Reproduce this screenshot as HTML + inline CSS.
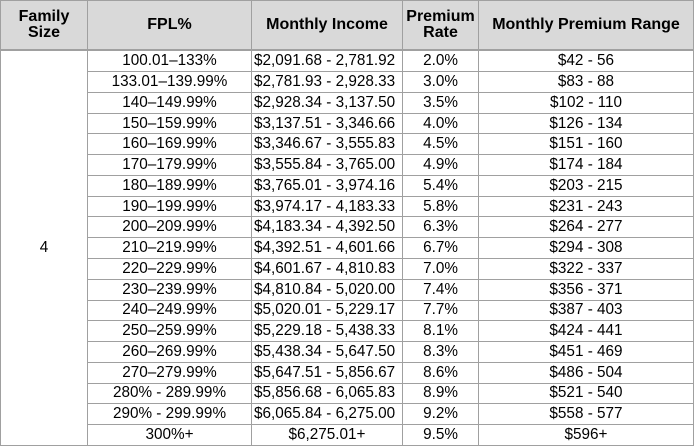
<!DOCTYPE html>
<html><head><style>
body{margin:0;background:#fff;}
table{position:absolute;left:0;top:0;width:693px;height:446px;border-collapse:collapse;font-family:"Liberation Sans",Arial,sans-serif;font-size:15.3px;color:#000;table-layout:fixed;}
td,th{border:1px solid #a0a0a0;padding:0 2px;text-align:center;line-height:16px;white-space:nowrap;overflow:hidden;}
th{background:#d9d9d9;font-weight:bold;font-size:16px;height:46px;border-bottom:2px solid #a0a0a0;}
td{height:18.8px;}
td.l{text-align:left;}
</style></head><body>
<table>
<colgroup><col style="width:87px"><col style="width:164px"><col style="width:151px"><col style="width:76px"><col style="width:215px"></colgroup>
<tr><th>Family<br>Size</th><th>FPL%</th><th>Monthly Income</th><th>Premium<br>Rate</th><th>Monthly Premium Range</th></tr>
<tr><td rowspan="20">4</td><td>100.01–133%</td><td class="l">$2,091.68 - 2,781.92</td><td>2.0%</td><td>$42 - 56</td></tr>
<tr><td>133.01–139.99%</td><td class="l">$2,781.93 - 2,928.33</td><td>3.0%</td><td>$83 - 88</td></tr>
<tr><td>140–149.99%</td><td class="l">$2,928.34 - 3,137.50</td><td>3.5%</td><td>$102 - 110</td></tr>
<tr><td>150–159.99%</td><td class="l">$3,137.51 - 3,346.66</td><td>4.0%</td><td>$126 - 134</td></tr>
<tr><td>160–169.99%</td><td class="l">$3,346.67 - 3,555.83</td><td>4.5%</td><td>$151 - 160</td></tr>
<tr><td>170–179.99%</td><td class="l">$3,555.84 - 3,765.00</td><td>4.9%</td><td>$174 - 184</td></tr>
<tr><td>180–189.99%</td><td class="l">$3,765.01 - 3,974.16</td><td>5.4%</td><td>$203 - 215</td></tr>
<tr><td>190–199.99%</td><td class="l">$3,974.17 - 4,183.33</td><td>5.8%</td><td>$231 - 243</td></tr>
<tr><td>200–209.99%</td><td class="l">$4,183.34 - 4,392.50</td><td>6.3%</td><td>$264 - 277</td></tr>
<tr><td>210–219.99%</td><td class="l">$4,392.51 - 4,601.66</td><td>6.7%</td><td>$294 - 308</td></tr>
<tr><td>220–229.99%</td><td class="l">$4,601.67 - 4,810.83</td><td>7.0%</td><td>$322 - 337</td></tr>
<tr><td>230–239.99%</td><td class="l">$4,810.84 - 5,020.00</td><td>7.4%</td><td>$356 - 371</td></tr>
<tr><td>240–249.99%</td><td class="l">$5,020.01 - 5,229.17</td><td>7.7%</td><td>$387 - 403</td></tr>
<tr><td>250–259.99%</td><td class="l">$5,229.18 - 5,438.33</td><td>8.1%</td><td>$424 - 441</td></tr>
<tr><td>260–269.99%</td><td class="l">$5,438.34 - 5,647.50</td><td>8.3%</td><td>$451 - 469</td></tr>
<tr><td>270–279.99%</td><td class="l">$5,647.51 - 5,856.67</td><td>8.6%</td><td>$486 - 504</td></tr>
<tr><td>280% - 289.99%</td><td class="l">$5,856.68 - 6,065.83</td><td>8.9%</td><td>$521 - 540</td></tr>
<tr><td>290% - 299.99%</td><td class="l">$6,065.84 - 6,275.00</td><td>9.2%</td><td>$558 - 577</td></tr>
<tr><td>300%+</td><td>$6,275.01+</td><td>9.5%</td><td>$596+</td></tr>
</table>
</body></html>
